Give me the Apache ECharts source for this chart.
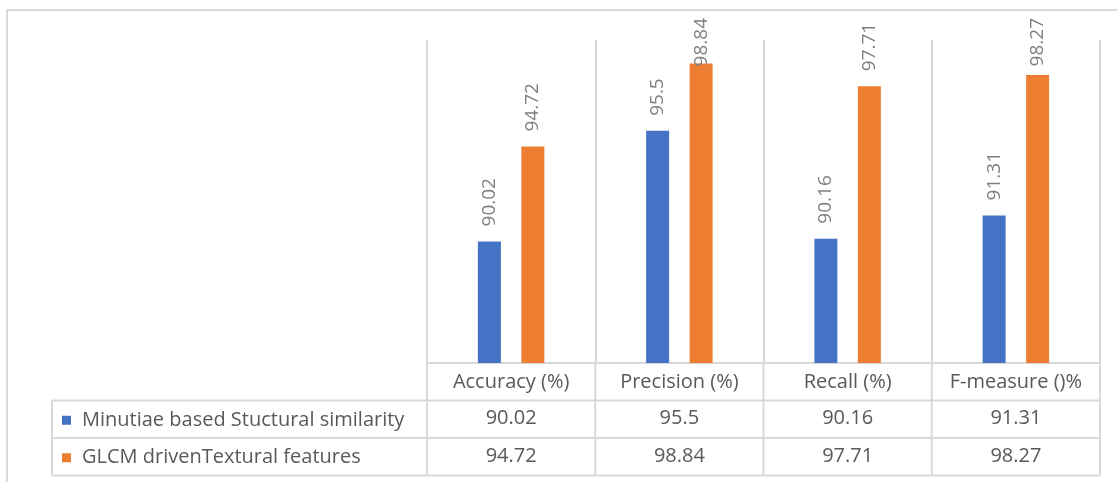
<!DOCTYPE html>
<html>
<head>
<meta charset="utf-8">
<script src="https://cdn.jsdelivr.net/npm/echarts@6/dist/echarts.min.js"></script>
<style>
  html, body { margin: 0; padding: 0; background: #ffffff; }
  #chart { width: 1117px; height: 482px; }
</style>
</head>
<body>
<div id="chart"></div>
<script>
// Metric categories and the two methods' scores
const categories = ['Accuracy (%)', 'Precision (%)', 'Recall (%)', 'F-measure ()%'];
const seriesNames = ['Minutiae based Stuctural similarity', 'GLCM drivenTextural features'];
const minutiaeValues = [90.02, 95.5, 90.16, 91.31];
const glcmValues = [94.72, 98.84, 97.71, 98.27];

const BLUE = '#4472C4';
const ORANGE = '#ED7D31';
const LINE = '#d9d9d9';
const TEXT = '#595959';
const FONT = '"Open Sans", "Noto Sans", sans-serif';
const TABLE_FONT_SIZE = 20;

// layout of the plot and the data table underneath
const W = 1117, H = 482;
const frameTop = 10;
const gridLeft = 427, gridRight = 17, gridTop = 40, axisY = 363;
const rowH = 37.5;
const tableLeft = 52;
const rowLines = [axisY + rowH, axisY + 2 * rowH, axisY + 3 * rowH];
const plotRight = W - gridRight;
const colW = (plotRight - gridLeft) / categories.length;

const graphics = [];
// chart area frame
graphics.push({ type: 'rect', shape: { x: 7, y: frameTop, width: W + 10, height: H }, style: { fill: 'none', stroke: LINE, lineWidth: 2 }, silent: true });
// table horizontal rules
rowLines.forEach(function (y) {
  graphics.push({ type: 'line', shape: { x1: tableLeft, y1: y, x2: plotRight, y2: y }, style: { stroke: LINE, lineWidth: 2 }, silent: true });
});
// table vertical rules
graphics.push({ type: 'line', shape: { x1: tableLeft, y1: rowLines[0], x2: tableLeft, y2: rowLines[2] }, style: { stroke: LINE, lineWidth: 2 }, silent: true });
for (let i = 0; i <= categories.length; i++) {
  const x = gridLeft + i * colW;
  graphics.push({ type: 'line', shape: { x1: x, y1: axisY, x2: x, y2: rowLines[2] }, style: { stroke: LINE, lineWidth: 2 }, silent: true });
}

function valueRowAxis(values, offset) {
  return {
    type: 'category',
    position: 'bottom',
    offset: offset,
    data: categories,
    axisLine: { show: false },
    axisTick: { show: false },
    splitLine: { show: false },
    axisLabel: {
      interval: 0, hideOverlap: false,
      fontSize: TABLE_FONT_SIZE, color: TEXT, fontFamily: FONT, margin: 7, lineHeight: 22,
      formatter: function (v, idx) { return String(values[idx]); }
    }
  };
}

const barLabel = {
  show: true, position: 'top', rotate: 90, align: 'left', verticalAlign: 'middle',
  distance: 15, fontSize: 19, color: '#7f7f7f', fontFamily: FONT
};

const chart = echarts.init(document.getElementById('chart'), null, { renderer: 'canvas' });
chart.setOption({
  animation: false,
  backgroundColor: '#ffffff',
  textStyle: { fontFamily: FONT },
  grid: { left: gridLeft, right: gridRight, top: gridTop, bottom: H - axisY, containLabel: false },
  legend: {
    orient: 'vertical',
    left: 57,
    top: rowLines[0] + rowH / 2 - 15,
    padding: 5,
    itemWidth: 9,
    itemHeight: 9,
    itemGap: rowH - 22,
    icon: 'rect',
    data: seriesNames,
    textStyle: { fontSize: TABLE_FONT_SIZE, color: TEXT, fontFamily: FONT, lineHeight: 22, padding: [0, 0, 0, 6] },
    selectedMode: false
  },
  xAxis: [
    {
      type: 'category',
      data: categories,
      axisLine: { show: true, lineStyle: { color: LINE, width: 2 } },
      axisTick: { show: false },
      splitLine: { show: true, lineStyle: { color: LINE, width: 2 } },
      axisLabel: { interval: 0, hideOverlap: false, fontSize: TABLE_FONT_SIZE, color: TEXT, fontFamily: FONT, margin: 8, lineHeight: 22 }
    },
    valueRowAxis(minutiaeValues, rowH),
    valueRowAxis(glcmValues, 2 * rowH)
  ],
  yAxis: {
    type: 'value',
    min: 84,
    max: 100,
    interval: 2,
    show: false,
    splitLine: { show: false }
  },
  // keep value labels inside the chart frame: tall bars push their label down onto the bar
  labelLayout: function (params) {
    const r = params.labelRect;
    const minTop = frameTop + 8;
    if (r.y < minTop) {
      return { y: r.y + r.height + (minTop - r.y) };
    }
    return {};
  },
  series: [
    {
      name: seriesNames[0],
      type: 'bar',
      data: minutiaeValues,
      barWidth: 23,
      barGap: '89%',
      itemStyle: { color: BLUE },
      label: barLabel
    },
    {
      name: seriesNames[1],
      type: 'bar',
      data: glcmValues,
      barWidth: 23,
      itemStyle: { color: ORANGE },
      label: barLabel
    }
  ],
  graphic: graphics
});
</script>
</body>
</html>
